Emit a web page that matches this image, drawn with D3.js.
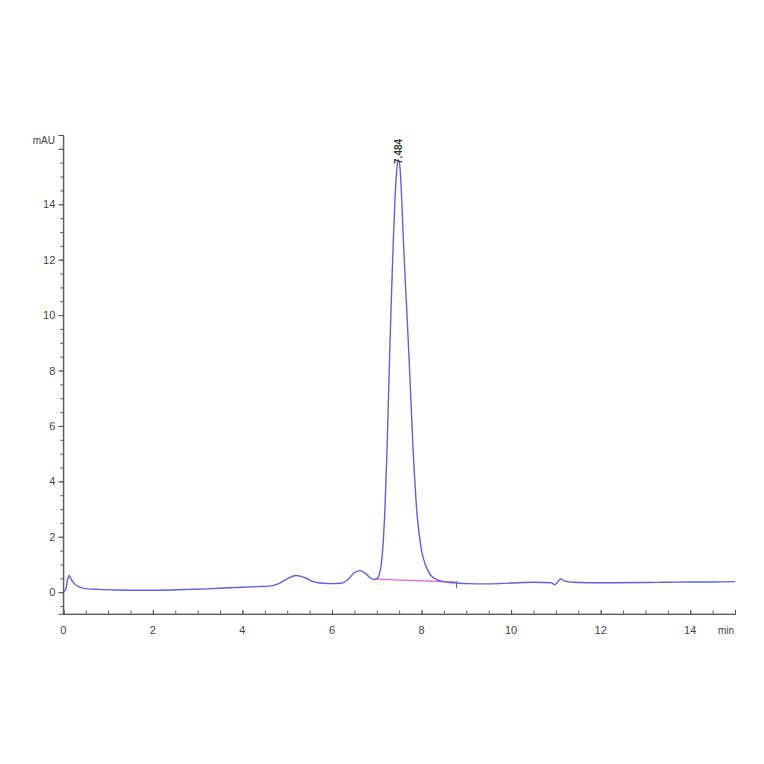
<!DOCTYPE html>
<html>
<head>
<meta charset="utf-8">
<script src="https://cdn.jsdelivr.net/npm/d3@7"></script>
<style>
  body { margin: 0; background: #fff; }
  text { font-family: "Liberation Sans", Arial, sans-serif; }
</style>
</head>
<body>
<div id="chart"></div>
<script>
// chromatogram trace (min, mAU)
var times = [0.00, 0.05, 0.10, 0.13, 0.18, 0.25, 0.35, 0.5, 0.8, 1.2, 1.6, 2.0, 2.4, 2.8, 3.2, 3.6, 4.0, 4.3, 4.6,
  4.8, 5.0, 5.2, 5.4, 5.6, 5.8, 6.0, 6.2, 6.35, 6.5, 6.63, 6.75, 6.85, 6.95, 7.0, 7.05, 7.1, 7.13, 7.18, 7.23,
  7.29, 7.33, 7.37, 7.41, 7.45, 7.484, 7.52, 7.56, 7.6, 7.66, 7.72, 7.81, 7.9, 8.0, 8.11, 8.2, 8.36, 8.5, 8.63,
  8.8, 9.0, 9.5, 10.0, 10.5, 10.9, 10.97, 11.05, 11.1, 11.2, 11.4, 12.0, 13.0, 13.5, 14.0, 14.5, 15.0]
var mAU = [0.02, 0.08, 0.48, 0.60, 0.45, 0.30, 0.19, 0.13, 0.10, 0.08, 0.07, 0.07, 0.08, 0.10, 0.12, 0.15, 0.18, 0.20, 0.22,
  0.30, 0.48, 0.60, 0.52, 0.37, 0.32, 0.31, 0.32, 0.45, 0.70, 0.78, 0.68, 0.52, 0.46, 0.48, 0.62, 1.0, 1.5, 2.9, 5.2,
  8.7, 10.8, 12.7, 14.3, 15.3, 15.6, 15.3, 14.1, 12.5, 10.5, 8.5, 5.2, 2.8, 1.5, 0.9, 0.62, 0.44, 0.38, 0.35,
  0.33, 0.31, 0.30, 0.33, 0.36, 0.34, 0.27, 0.38, 0.48, 0.40, 0.36, 0.34, 0.35, 0.36, 0.37, 0.37, 0.38]

// integration baseline under the main peak
var baseTimes = [6.97, 8.78]
var baseValues = [0.47, 0.36]

var peakTime = 7.484
var peakLabel = "7.484"

var xTicks = [0, 2, 4, 6, 8, 10, 12, 14]
var yTicks = [0, 2, 4, 6, 8, 10, 12, 14]

const W = 764, H = 764
const svg = d3.select("#chart").append("svg")
    .attr("width", W)
    .attr("height", H)

const x = d3.scaleLinear().domain([0, 15]).range([63.3, 735])
const y = d3.scaleLinear().domain([-0.78, 16.5]).range([613.8, 135])

const axisColor = "#555"
const textColor = "#444"

// y axis
const gy = svg.append("g").attr("transform", `translate(${x(0)},0)`)
gy.call(d3.axisLeft(y).tickValues(d3.range(-0.5, 16.5, 0.5)).tickSize(3).tickFormat(""))
gy.append("g").call(d3.axisLeft(y).tickValues(yTicks.concat([16])).tickSize(5).tickFormat(d => d == 16 ? "" : d))
gy.selectAll("path").attr("stroke", axisColor)
gy.selectAll("line").attr("stroke", axisColor)
gy.selectAll("text").attr("fill", textColor).style("font-size", "11px")
gy.select(".domain").attr("d", `M0,${y(-0.78)}V${y(16.5)}`)
svg.append("text")
    .attr("x", 55).attr("y", 144)
    .attr("text-anchor", "end")
    .attr("fill", textColor)
    .style("font-size", "10px")
    .text("mAU")

// x axis, ticks point up
const gx = svg.append("g").attr("transform", `translate(0,${y(-0.78)})`)
gx.call(d3.axisTop(x).tickValues(d3.range(0, 15.01, 0.5)).tickSize(3).tickFormat(""))
gx.append("g").call(d3.axisTop(x).tickValues(xTicks).tickSize(4).tickFormat(""))
gx.selectAll("path").attr("stroke", axisColor)
gx.selectAll("line").attr("stroke", axisColor)
gx.selectAll(".xlab")
    .data(xTicks)
    .enter().append("text")
    .attr("class", "xlab")
    .attr("x", d => x(d))
    .attr("y", 20)
    .attr("text-anchor", "middle")
    .attr("fill", textColor)
    .style("font-size", "11px")
    .text(d => d)
gx.append("text")
    .attr("x", x(14.8)).attr("y", 20)
    .attr("text-anchor", "middle")
    .attr("fill", textColor)
    .style("font-size", "10px")
    .text("min")

// baseline
svg.append("line")
    .attr("x1", x(baseTimes[0])).attr("y1", y(baseValues[0]))
    .attr("x2", x(baseTimes[1])).attr("y2", y(baseValues[1]))
    .attr("stroke", "#e85fd0")
    .attr("stroke-width", 1.3)
svg.append("line")
    .attr("x1", x(baseTimes[1])).attr("y1", y(baseValues[1]) - 1)
    .attr("x2", x(baseTimes[1])).attr("y2", y(baseValues[1]) + 6)
    .attr("stroke", "#666")
    .attr("stroke-width", 1)

// trace
const pts = times.map((t, i) => [t, mAU[i]])
svg.append("path")
    .datum(pts)
    .attr("fill", "none")
    .attr("stroke", "#6060e0")
    .attr("stroke-width", 1.4)
    .attr("d", d3.line().x(d => x(d[0])).y(d => y(d[1])).curve(d3.curveMonotoneX))

// peak label
svg.append("text")
    .attr("transform", `translate(${x(peakTime) + 4},${y(15.6) + 4}) rotate(-90)`)
    .attr("fill", "#333")
    .style("font-size", "10px")
    .style("font-weight", "bold")
    .text(peakLabel)
</script>
</body>
</html>
